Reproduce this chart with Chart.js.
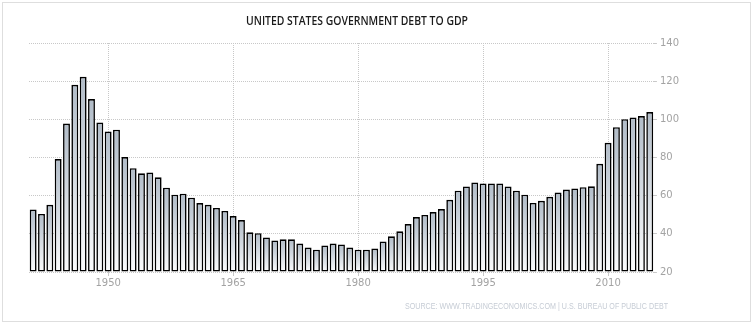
<!DOCTYPE html>
<html>
<head>
<meta charset="utf-8">
<script src="https://cdn.jsdelivr.net/npm/chart.js@4.4.1/dist/chart.umd.min.js"></script>
<style>
  html, body { margin: 0; padding: 0; background: #fff; }
  #wrap { position: relative; width: 754px; height: 324px; overflow: hidden; }
  #frame { position: absolute; left: 2px; top: 2px; width: 747px; height: 318px; border: 1px solid #dedede; }
  #c { position: absolute; left: 0; top: 0; }
  .txt { position: absolute; white-space: nowrap; transform-origin: 0 0; font-family: "Liberation Sans", "DejaVu Sans", sans-serif; }
  #title { left: 246px; top: 11px; font-family: "Open Sans", "Liberation Sans", sans-serif; font-size: 13px; font-weight: 600; color: #1a1a1a; }
  #source { left: 405px; top: 301px; font-size: 8.5px; color: #c6ccd5; }
</style>
</head>
<body>
<div id="wrap">
  <div id="frame"></div>
  <canvas id="c" width="754" height="324"></canvas>
  <div id="title" class="txt" data-w="222">UNITED STATES GOVERNMENT DEBT TO GDP</div>
  <div id="source" class="txt" data-w="263">SOURCE: WWW.TRADINGECONOMICS.COM | U.S. BUREAU OF PUBLIC DEBT</div>
</div>
<script>
// Years (categories)
const years = [];
for (let y = 1940; y <= 2014; y++) years.push(y);

// Government debt to GDP (%)
const debtToGdp = [
  52.7, 50.4, 55.2, 79.2, 97.8, 118.1, 122.3, 110.6, 98.4, 93.6,
  94.6, 80.2, 74.4, 71.7, 72.2, 69.6, 64.2, 60.5, 61.0, 58.9,
  56.1, 55.2, 53.6, 52.0, 49.3, 47.2, 40.8, 40.3, 38.1, 36.5,
  37.1, 37.1, 34.9, 32.8, 31.7, 33.9, 34.9, 34.4, 32.8, 31.7,
  31.7, 32.3, 36.0, 38.7, 41.3, 45.1, 48.8, 49.9, 51.4, 53.0,
  57.8, 62.6, 64.8, 66.9, 66.4, 66.4, 66.4, 64.8, 62.6, 60.5,
  56.2, 57.3, 59.4, 61.6, 63.2, 63.8, 64.4, 64.9, 76.7, 87.7,
  95.9, 100.1, 101.0, 101.7, 103.8
];

// Axis tick labels
const xTickLabels = [1950, 1965, 1980, 1995, 2010];
const yTicks = [20, 40, 60, 80, 100, 120, 140];

const yMin = yTicks[0], yMax = yTicks[yTicks.length - 1];

// fit the overlay texts to their measured widths in the reference
document.querySelectorAll('.txt').forEach(el => {
  const w = el.getBoundingClientRect().width;
  const target = parseFloat(el.dataset.w);
  if (w > 0) el.style.transform = 'scaleX(' + (target / w) + ')';
});

function xLabelFor(index) {
  // labels sit at the year-end of the preceding year (start of labelled year)
  const next = years[index] + 1;
  return xTickLabels.includes(next) ? String(next) : '';
}

const ctx = document.getElementById('c').getContext('2d');
new Chart(ctx, {
  type: 'bar',
  data: {
    labels: years.map(String),
    datasets: [{
      data: debtToGdp,
      base: yMin,
      borderColor: '#000000',
      borderWidth: 1.6,
      borderSkipped: false,
      barPercentage: 0.83,
      categoryPercentage: 1.0,
      backgroundColor: (c) => {
        const chart = c.chart;
        const s = chart.scales && chart.scales.y;
        if (!s || c.raw == null) return '#d0d6dd';
        const top = s.getPixelForValue(c.raw);
        const bot = s.getPixelForValue(yMin);
        if (!isFinite(top) || !isFinite(bot) || top === bot) return '#d0d6dd';
        const g = chart.ctx.createLinearGradient(0, top, 0, bot);
        g.addColorStop(0, '#b1bcc8');
        g.addColorStop(1, '#fbfcfd');
        return g;
      }
    }]
  },
  options: {
    responsive: false,
    animation: false,
    events: [],
    layout: { padding: { left: 29, top: 43, right: 72, bottom: 34 } },
    plugins: { legend: { display: false }, tooltip: { enabled: false }, title: { display: false } },
    scales: {
      x: {
        offset: true,
        border: { display: false, dash: [1, 1] },
        grid: {
          offset: false,
          drawOnChartArea: true,
          tickLength: 4,
          lineWidth: 1,
          color: (c) => (c.tick && c.tick.label) ? '#c8c8c8' : 'rgba(0,0,0,0)'
        },
        ticks: {
          autoSkip: false,
          maxRotation: 0,
          padding: 1,
          color: '#a3a3a3',
          font: { family: 'DejaVu Sans', size: 10 },
          callback: (v, i) => xLabelFor(i)
        }
      },
      y: {
        position: 'right',
        min: yMin,
        max: yMax,
        border: { display: false, dash: [1, 1] },
        grid: { color: '#c8c8c8', lineWidth: 1, tickLength: 3 },
        afterBuildTicks: (axis) => { axis.ticks = yTicks.map(v => ({ value: v })); },
        ticks: {
          padding: 3,
          color: '#a3a3a3',
          font: { family: 'DejaVu Sans', size: 10 },
          callback: (v) => String(v)
        }
      }
    }
  }
});
</script>
</body>
</html>
